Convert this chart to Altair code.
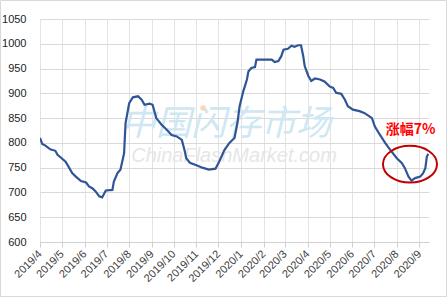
import altair as alt
import pandas as pd

dates = ["2019-04-01","2019-04-04","2019-04-08","2019-04-15","2019-04-22","2019-04-25","2019-04-29",
"2019-05-06","2019-05-10","2019-05-15","2019-05-20","2019-05-27","2019-06-03","2019-06-07","2019-06-12",
"2019-06-16","2019-06-21","2019-06-25","2019-06-30","2019-07-09","2019-07-11","2019-07-16","2019-07-20",
"2019-07-25","2019-07-27","2019-08-01","2019-08-06","2019-08-13","2019-08-18","2019-08-22","2019-08-29",
"2019-09-02","2019-09-07","2019-09-14","2019-09-21","2019-09-28","2019-10-05","2019-10-12","2019-10-16",
"2019-10-18","2019-10-23","2019-11-01","2019-11-09","2019-11-18","2019-11-27","2019-12-02","2019-12-09",
"2019-12-16","2019-12-23","2019-12-27","2019-12-30","2020-01-04","2020-01-09","2020-01-11","2020-01-15",
"2020-01-20","2020-01-22","2020-02-12","2020-02-16","2020-02-21","2020-02-25","2020-02-28","2020-03-05",
"2020-03-10","2020-03-14","2020-03-19","2020-03-23","2020-03-26","2020-03-28","2020-04-02","2020-04-06",
"2020-04-11","2020-04-18","2020-04-24","2020-05-01","2020-05-06","2020-05-10","2020-05-17","2020-05-22",
"2020-05-26","2020-06-02","2020-06-11","2020-06-18","2020-06-23","2020-06-28","2020-07-02","2020-07-09",
"2020-07-16","2020-07-23","2020-08-01","2020-08-08","2020-08-12","2020-08-17","2020-08-21","2020-08-26",
"2020-09-02","2020-09-06","2020-09-09","2020-09-11","2020-09-13"]
values = [810,798,795,787,784,776,771,
762,752,739,732,723,720,712,708,
702,692,690,704,705,722,739,746,
779,840,880,892,894,887,877,879,
877,850,837,827,816,813,806,783,
769,760,755,750,746,748,762,785,
800,810,840,874,904,928,944,951,
953,968,968,963,965,975,988,990,
996,994,997,997,975,955,935,925,
930,928,924,914,911,901,899,887,
874,867,864,860,855,850,833,816,
800,786,769,759,749,732,724,729,
732,739,749,772,778]

tick_months = [(2019, m) for m in range(4, 13)] + [(2020, m) for m in range(1, 10)]
y_ticks = [600, 650, 700, 750, 800, 850, 900, 950, 1000, 1050]

annot_text = "涨幅7%"
annot_date = ["2020-08-20"]
annot_text_value = [826]
ellipse_date = ["2020-08-19"]
ellipse_value = [757]

df = pd.DataFrame({"date": dates, "value": values})

xscale = alt.Scale(type="utc", domain=[alt.DateTime(year=2019, month=4, date=1, utc=True),
                                       alt.DateTime(year=2020, month=9, date=14, utc=True)], nice=False)
yscale = alt.Scale(domain=[600, 1050], nice=False, zero=False)

xaxis = alt.Axis(
    values=[alt.DateTime(year=y, month=m, date=1, utc=True) for y, m in tick_months],
    format="%Y/%-m", labelAngle=-45, labelAlign="right", labelBaseline="middle",
    labelFont="Liberation Sans", labelFontSize=11, labelColor="#404040",
    tickColor="#d0d0d0", tickSize=5, labelPadding=5, domainColor="#d0d0d0",
    gridColor="#e3e3e3", grid=True, title=None, labelOverlap=False, labelFlush=False,
)
yaxis = alt.Axis(
    values=y_ticks, format="d", labelFont="Liberation Sans", labelFontSize=11, labelColor="#222222",
    ticks=False, domain=False, labelPadding=14, gridColor="#dadada", title=None,
    labelOverlap=False,
)

border = alt.Chart(pd.DataFrame({"a": [0]})).mark_rect(
    fill=None, stroke="#d9d9d9", strokeWidth=1
).encode(x=alt.value(-39.5), x2=alt.value(406.5), y=alt.value(-18.5), y2=alt.value(277.5))

wm1 = alt.Chart(pd.DataFrame({"t": ["中国闪存市场"]})).mark_text(
    font="Noto Sans CJK SC", fontSize=35, fontStyle="italic", color="#cfe6f3", align="center",
    baseline="middle", angle=0
).encode(x=alt.value(186), y=alt.value(105), text="t:N")
wm_dot = alt.Chart(pd.DataFrame({"t": ["."]})).mark_point(
    filled=True, color="#fbd9b0", size=30, opacity=1
).encode(x=alt.value(163), y=alt.value(89))
wm2 = alt.Chart(pd.DataFrame({"t": ["ChinaFlashMarket.com"]})).mark_text(
    font="Liberation Sans", fontSize=20, fontStyle="italic", color="#e6e6e6", align="center",
    baseline="middle"
).encode(x=alt.value(194), y=alt.value(137), text="t:N")

line = alt.Chart(df).mark_line(color="#2f5597", strokeWidth=2.2, clip=True).encode(
    x=alt.X("date:T", scale=xscale, axis=xaxis),
    y=alt.Y("value:Q", scale=yscale, axis=yaxis),
)

ell = alt.Chart(pd.DataFrame({"date": ellipse_date, "value": ellipse_value})).mark_point(
    shape="M -1 0 A 1 0.68 0 1 0 1 0 A 1 0.68 0 1 0 -1 0 Z", size=2916, filled=False,
    stroke="#c00000", strokeWidth=2, opacity=1
).encode(x=alt.X("date:T", scale=xscale, axis=xaxis), y=alt.Y("value:Q", scale=yscale, axis=yaxis))

txt = alt.Chart(pd.DataFrame({"date": annot_date, "value": annot_text_value, "t": [annot_text]})).mark_text(
    font="Noto Sans CJK SC", fontSize=14, fontWeight="bold", color="#ff0000", align="center", baseline="middle"
).encode(x=alt.X("date:T", scale=xscale, axis=xaxis), y=alt.Y("value:Q", scale=yscale, axis=yaxis), text="t:N")

chart = alt.layer(border, wm1, wm_dot, wm2, line, ell, txt).properties(
    width=389, height=223, autosize=alt.AutoSizeParams(type="none"),
    padding={"left": 40, "top": 19, "right": 18, "bottom": 56},
    background="white",
).configure_view(stroke=None)

chart.save("out.html", embed_options={"renderer": "svg", "actions": False})
